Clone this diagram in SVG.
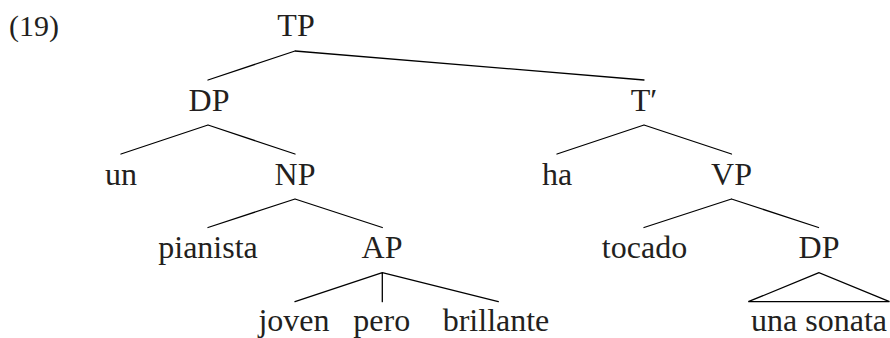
<svg xmlns="http://www.w3.org/2000/svg" width="890" height="338" viewBox="0 0 890 338">
<style>
text{font-family:"Liberation Serif","Times New Roman",serif;font-size:32px;fill:#231f20;text-anchor:middle}
.e{stroke:#000;stroke-width:1.3;fill:none;stroke-linecap:round}
</style>
<rect width="890" height="338" fill="#fff"/>
<text x="34" y="36" style="font-size:30px">(19)</text>
<g id="connectors">
<path class="e" d="M295 51L208 80M295 51L644 80"/>
<path class="e" d="M208 125L121 154M208 125L295 154"/>
<path class="e" d="M644 125L557 154M644 125L731.5 154"/>
<path class="e" d="M295 199L208 227.5M295 199L382.3 227.5"/>
<path class="e" d="M382.3 272.7L295 301.7M382.3 272.7L382.3 301.7M382.3 272.7L498.3 301.7"/>
<path class="e" d="M731.5 199L644 227.5M731.5 199L818.5 227.5"/>
<path class="e" d="M819 272.7L748.3 301.7L889.5 301.7Z" stroke-linejoin="miter"/>
</g>
<g id="TP"><text x="296" y="36">TP</text></g>
<g id="DP1"><text x="209" y="111">DP</text></g>
<g id="Tbar"><text x="644" y="111">T′</text></g>
<g id="un"><text x="121" y="185">un</text></g>
<g id="NP"><text x="295" y="185">NP</text></g>
<g id="ha"><text x="557" y="185">ha</text></g>
<g id="VP"><text x="731.5" y="185">VP</text></g>
<g id="pianista"><text x="208" y="258">pianista</text></g>
<g id="AP"><text x="382" y="258">AP</text></g>
<g id="tocado"><text x="644.5" y="258">tocado</text></g>
<g id="DP2"><text x="819" y="258">DP</text></g>
<g id="joven"><text x="294" y="331">joven</text></g>
<g id="pero"><text x="381.7" y="331">pero</text></g>
<g id="brillante"><text x="496" y="331">brillante</text></g>
<g id="unasonata"><text x="819" y="331">una sonata</text></g>
</svg>
